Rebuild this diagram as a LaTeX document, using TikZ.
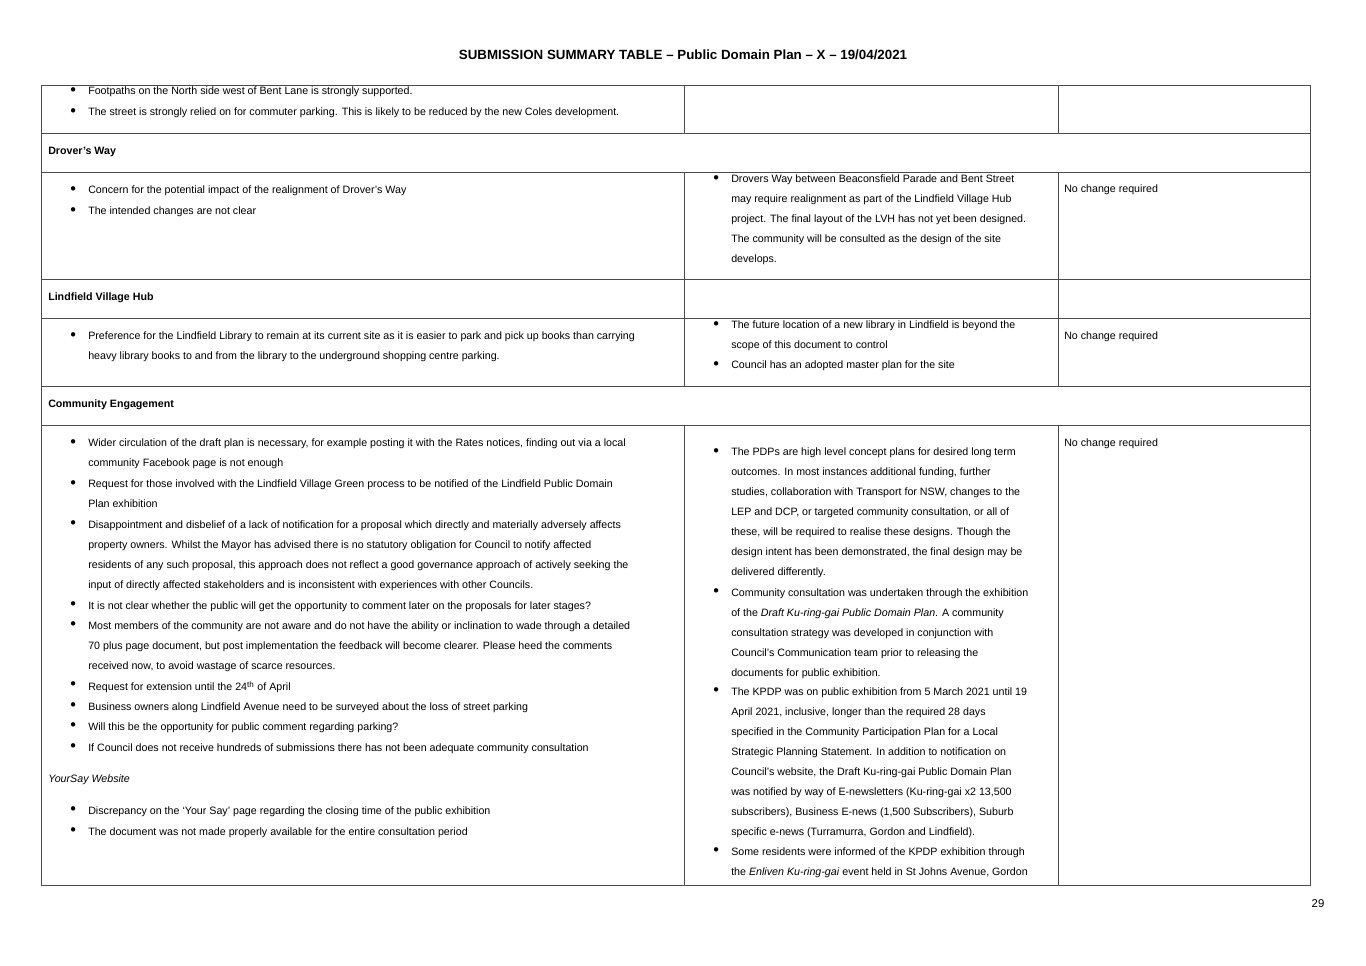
\documentclass[tikz,border=0pt]{standalone}
\usepackage{fontspec}
\setmainfont{Liberation Sans}
\usetikzlibrary{positioning}
\tikzset{
  txt/.style={anchor=north west, inner sep=0pt, align=left, font=\fontsize{8}{15}\selectfont},
  rule/.style={draw=black!70, line width=0.6pt}
}
% bullet item: x of text, y of first line centre, lines
\newcommand\bitem[3]{%
  \node[txt] at (#1-18,#2-5) {$\bullet$};
  \node[txt] at (#1,#2-5) {#3};}
\newcommand\ptext[3]{\node[txt] at (#1,#2-5) {#3};}
\begin{document}
\begin{tikzpicture}[x=0.75pt, y=-0.75pt]
  \useasboundingbox (0,0) rectangle (1366,966);
  \node[font=\fontsize{10}{12}\selectfont\bfseries] (title) at (683,55)
    {SUBMISSION SUMMARY TABLE -- Public Domain Plan -- X -- 19/04/2021};
  \node[font=\fontsize{8.5}{10}\selectfont] (page) at (1318,904) {29};

  % table frame and rows
  \draw[rule] (41,85) rectangle (1310,885);
  \foreach \y in {133,172,279,318,386,425} \draw[rule] (41,\y) -- (1310,\y);
  \foreach \a/\b in {85/133,172/279,279/318,318/386,425/885} {
    \draw[rule] (684,\a) -- (684,\b);
    \draw[rule] (1058,\a) -- (1058,\b);
  }

  % row 1
  \bitem{88}{92}{Footpaths on the North side west of Bent Lane is strongly supported.}
  \bitem{88}{113}{The street is strongly relied on for commuter parking. This is likely to be reduced by the new Coles development.}

  % Drover's Way
  \ptext{48}{152}{\bfseries Drover's Way}
  \bitem{88}{191}{Concern for the potential impact of the realignment of Drover's Way}
  \bitem{88}{212}{The intended changes are not clear}
  \bitem{731}{180}{Drovers Way between Beaconsfield Parade and Bent Street\\may require realignment as part of the Lindfield Village Hub\\project. The final layout of the LVH has not yet been designed.\\The community will be consulted as the design of the site\\develops.}
  \ptext{1064}{190}{No change required}

  % Lindfield Village Hub
  \ptext{48}{298}{\bfseries Lindfield Village Hub}
  \bitem{88}{337}{Preference for the Lindfield Library to remain at its current site as it is easier to park and pick up books than carrying\\heavy library books to and from the library to the underground shopping centre parking.}
  \bitem{731}{326}{The future location of a new library in Lindfield is beyond the\\scope of this document to control}
  \bitem{731}{366}{Council has an adopted master plan for the site}
  \ptext{1064}{337}{No change required}

  % Community Engagement
  \ptext{48}{405}{\bfseries Community Engagement}
  \bitem{88}{444}{Wider circulation of the draft plan is necessary, for example posting it with the Rates notices, finding out via a local\\community Facebook page is not enough}
  \bitem{88}{485}{Request for those involved with the Lindfield Village Green process to be notified of the Lindfield Public Domain\\Plan exhibition}
  \bitem{88}{525}{Disappointment and disbelief of a lack of notification for a proposal which directly and materially adversely affects\\property owners. Whilst the Mayor has advised there is no statutory obligation for Council to notify affected\\residents of any such proposal, this approach does not reflect a good governance approach of actively seeking the\\input of directly affected stakeholders and is inconsistent with experiences with other Councils.}
  \bitem{88}{606}{It is not clear whether the public will get the opportunity to comment later on the proposals for later stages?}
  \bitem{88}{626}{Most members of the community are not aware and do not have the ability or inclination to wade through a detailed\\70 plus page document, but post implementation the feedback will become clearer. Please heed the comments\\received now, to avoid wastage of scarce resources.}
  \bitem{88}{686}{Request for extension until the 24\textsuperscript{th} of April}
  \bitem{88}{707}{Business owners along Lindfield Avenue need to be surveyed about the loss of street parking}
  \bitem{88}{727}{Will this be the opportunity for public comment regarding parking?}
  \bitem{88}{748}{If Council does not receive hundreds of submissions there has not been adequate community consultation}
  \ptext{48}{779}{\itshape YourSay Website}
  \bitem{88}{811}{Discrepancy on the `Your Say' page regarding the closing time of the public exhibition}
  \bitem{88}{832}{The document was not made properly available for the entire consultation period}

  \bitem{731}{453}{The PDPs are high level concept plans for desired long term\\outcomes. In most instances additional funding, further\\studies, collaboration with Transport for NSW, changes to the\\LEP and DCP, or targeted community consultation, or all of\\these, will be required to realise these designs. Though the\\design intent has been demonstrated, the final design may be\\delivered differently.}
  \bitem{731}{593}{Community consultation was undertaken through the exhibition\\of the \textit{Draft Ku-ring-gai Public Domain Plan}. A community\\consultation strategy was developed in conjunction with\\Council's Communication team prior to releasing the\\documents for public exhibition.}
  \bitem{731}{692}{The KPDP was on public exhibition from 5 March 2021 until 19\\April 2021, inclusive, longer than the required 28 days\\specified in the Community Participation Plan for a Local\\Strategic Planning Statement. In addition to notification on\\Council's website, the Draft Ku-ring-gai Public Domain Plan\\was notified by way of E-newsletters (Ku-ring-gai x2 13,500\\subscribers), Business E-news (1,500 Subscribers), Suburb\\specific e-news (Turramurra, Gordon and Lindfield).}
  \bitem{731}{852}{Some residents were informed of the KPDP exhibition through\\the \textit{Enliven Ku-ring-gai} event held in St Johns Avenue, Gordon}
  \ptext{1064}{444}{No change required}
\end{tikzpicture}
\end{document}
